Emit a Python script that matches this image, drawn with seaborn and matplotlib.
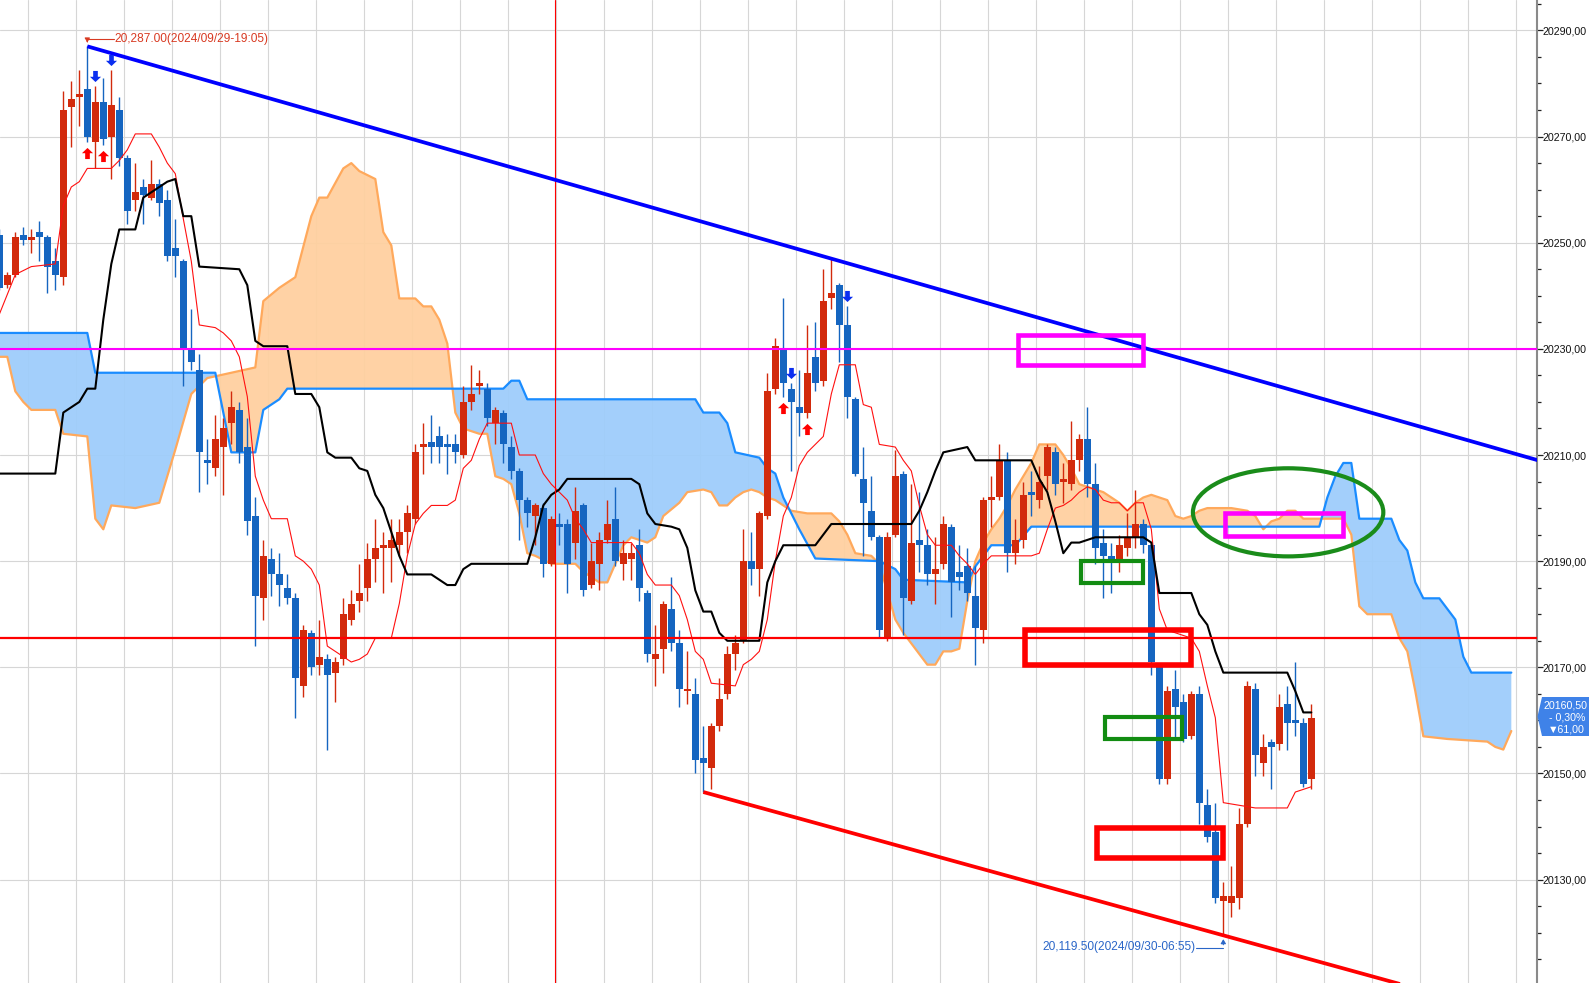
import matplotlib
matplotlib.use("Agg")
import matplotlib.pyplot as plt
from matplotlib import font_manager
from matplotlib.patches import Polygon, Rectangle, Ellipse
import numpy as np
import pandas as pd
import seaborn as sns

# --- candles (one row of ten per line) ---
opens = [
    20251.5, 20242.0, 20244.0, 20251.5, 20250.5, 20252.0, 20251.0, 20246.5, 20243.5, 20275.5,
    20277.5, 20279.0, 20269.0, 20276.5, 20270.0, 20275.0, 20266.0, 20258.0, 20260.5, 20258.5,
    20261.0, 20258.0, 20249.0, 20246.5, 20230.0, 20226.0, 20209.0, 20207.5, 20211.5, 20216.0,
    20218.5, 20211.5, 20198.5, 20183.0, 20190.5, 20187.5, 20185.0, 20183.0, 20166.5, 20176.5,
    20170.5, 20171.5, 20169.0, 20171.5, 20179.0, 20182.5, 20185.0, 20190.5, 20192.5, 20192.5,
    20193.0, 20195.5, 20198.0, 20211.5, 20212.5, 20213.5, 20212.0, 20212.0, 20210.0, 20220.0,
    20223.0, 20222.5, 20216.0, 20218.0, 20211.5, 20207.0, 20201.5, 20198.5, 20200.0, 20189.5,
    20197.0, 20197.0, 20193.5, 20200.5, 20185.5, 20189.5, 20194.0, 20198.0, 20189.5, 20190.5,
    20193.0, 20184.0, 20171.5, 20173.5, 20181.0, 20174.5, 20165.5, 20165.0, 20153.0, 20151.0,
    20159.0, 20165.0, 20172.5, 20175.0, 20190.0, 20188.5, 20198.5, 20222.5, 20230.0, 20222.5,
    20219.0, 20218.0, 20228.5, 20224.0, 20239.5, 20242.0, 20234.5, 20220.5, 20205.5, 20199.5,
    20194.5, 20175.5, 20195.0, 20206.5, 20182.5, 20194.0, 20193.0, 20187.5, 20189.5, 20196.5,
    20188.0, 20189.0, 20183.5, 20177.0, 20201.5, 20202.0, 20209.0, 20191.5, 20194.0, 20203.0,
    20201.5, 20206.0, 20210.5, 20205.0, 20204.5, 20209.0, 20213.0, 20204.5, 20193.5, 20191.0,
    20190.5, 20192.5, 20194.5, 20197.0, 20193.0, 20170.0, 20149.0, 20166.0, 20163.5, 20157.0,
    20165.0, 20144.0, 20139.0, 20126.0, 20125.5, 20126.5, 20140.5, 20166.0, 20152.0, 20156.0,
    20155.5, 20163.0, 20160.0, 20159.5, 20149.0]
highs = [
    20252.5, 20244.5, 20252.0, 20253.0, 20252.5, 20254.0, 20251.5, 20249.0, 20278.5, 20280.5,
    20282.5, 20287.0, 20279.5, 20281.0, 20282.5, 20277.5, 20266.5, 20265.0, 20262.0, 20265.5,
    20262.0, 20260.0, 20254.5, 20247.0, 20237.5, 20229.0, 20213.0, 20217.5, 20217.0, 20222.0,
    20220.0, 20217.0, 20202.0, 20194.0, 20192.5, 20191.5, 20187.5, 20184.0, 20178.0, 20177.0,
    20179.0, 20172.5, 20172.0, 20183.0, 20184.5, 20189.5, 20193.5, 20198.0, 20195.5, 20198.0,
    20198.0, 20200.5, 20212.0, 20216.0, 20217.5, 20215.5, 20214.0, 20214.0, 20223.0, 20227.0,
    20226.0, 20223.5, 20219.0, 20218.5, 20213.5, 20207.5, 20202.0, 20201.0, 20201.0, 20198.5,
    20199.0, 20198.0, 20204.0, 20201.0, 20193.5, 20195.5, 20201.5, 20204.0, 20194.0, 20193.5,
    20196.0, 20184.5, 20178.0, 20182.5, 20187.0, 20177.0, 20173.0, 20168.0, 20159.0, 20159.5,
    20168.0, 20174.0, 20176.0, 20196.0, 20195.5, 20199.5, 20225.5, 20232.0, 20239.5, 20223.5,
    20226.0, 20234.5, 20235.0, 20245.0, 20247.0, 20242.5, 20238.0, 20221.0, 20211.5, 20206.0,
    20195.0, 20195.5, 20211.0, 20207.0, 20204.5, 20203.0, 20196.0, 20194.5, 20198.5, 20197.0,
    20193.0, 20192.5, 20189.0, 20202.0, 20206.0, 20212.0, 20210.5, 20198.0, 20205.0, 20207.0,
    20208.0, 20212.0, 20211.5, 20208.5, 20216.5, 20214.0, 20219.0, 20208.5, 20196.0, 20193.5,
    20195.0, 20199.0, 20203.5, 20198.0, 20193.5, 20170.5, 20166.5, 20169.5, 20165.0, 20165.5,
    20166.5, 20147.0, 20144.5, 20129.5, 20132.5, 20143.5, 20167.5, 20167.0, 20157.5, 20156.5,
    20165.0, 20166.5, 20171.0, 20160.5, 20163.0]
lows = [
    20241.0, 20241.5, 20243.5, 20249.5, 20248.0, 20246.5, 20240.5, 20241.0, 20242.0, 20268.0,
    20272.0, 20269.0, 20264.0, 20268.5, 20262.0, 20264.5, 20253.5, 20256.0, 20253.5, 20258.0,
    20255.0, 20246.5, 20243.5, 20223.0, 20226.0, 20203.0, 20204.5, 20206.0, 20202.5, 20212.0,
    20208.5, 20195.0, 20174.0, 20179.0, 20183.5, 20181.5, 20182.0, 20160.5, 20164.5, 20168.5,
    20168.5, 20154.5, 20163.5, 20170.5, 20178.0, 20180.5, 20182.5, 20186.0, 20184.0, 20186.0,
    20191.0, 20191.5, 20197.0, 20206.5, 20208.5, 20208.5, 20206.5, 20208.5, 20209.5, 20218.5,
    20221.5, 20215.5, 20212.0, 20208.5, 20205.5, 20194.0, 20196.5, 20193.0, 20187.0, 20189.0,
    20193.0, 20184.0, 20190.5, 20183.5, 20185.0, 20184.5, 20193.5, 20189.0, 20186.5, 20186.5,
    20182.5, 20171.0, 20166.5, 20169.0, 20173.0, 20162.5, 20163.0, 20150.0, 20146.5, 20147.0,
    20158.0, 20164.0, 20169.5, 20174.5, 20185.5, 20183.5, 20198.0, 20221.5, 20221.0, 20207.0,
    20213.5, 20217.0, 20222.0, 20223.0, 20237.5, 20227.5, 20217.0, 20206.0, 20191.0, 20194.0,
    20175.5, 20175.0, 20194.5, 20176.0, 20182.0, 20188.0, 20185.5, 20182.0, 20188.5, 20179.5,
    20184.5, 20182.5, 20170.5, 20174.5, 20196.5, 20201.5, 20188.0, 20189.5, 20192.5, 20198.5,
    20200.0, 20203.5, 20202.5, 20201.0, 20203.5, 20207.0, 20202.0, 20189.5, 20183.0, 20184.0,
    20188.0, 20191.0, 20192.5, 20191.5, 20168.5, 20148.0, 20148.0, 20156.5, 20156.0, 20156.5,
    20140.5, 20137.0, 20125.5, 20119.5, 20123.0, 20124.5, 20140.0, 20149.5, 20149.5, 20147.0,
    20154.5, 20154.5, 20157.0, 20147.5, 20147.0]
closes = [
    20241.5, 20244.0, 20251.0, 20250.5, 20251.0, 20251.0, 20245.5, 20244.0, 20275.0, 20277.0,
    20278.0, 20270.0, 20276.5, 20269.5, 20276.0, 20266.0, 20256.0, 20259.5, 20259.0, 20261.0,
    20257.5, 20247.5, 20247.5, 20230.0, 20227.5, 20210.5, 20208.5, 20213.0, 20215.0, 20219.0,
    20210.5, 20197.5, 20183.5, 20191.0, 20187.5, 20185.5, 20183.0, 20168.0, 20177.0, 20170.0,
    20172.0, 20168.5, 20171.0, 20180.0, 20182.0, 20184.0, 20190.5, 20192.5, 20193.0, 20194.0,
    20195.5, 20199.0, 20210.5, 20212.0, 20211.5, 20211.5, 20211.5, 20210.5, 20220.0, 20221.5,
    20223.5, 20217.0, 20218.5, 20212.0, 20207.0, 20201.5, 20199.0, 20200.5, 20189.5, 20198.0,
    20196.5, 20189.5, 20199.5, 20184.5, 20190.0, 20194.0, 20197.0, 20190.0, 20191.5, 20191.5,
    20185.0, 20172.5, 20172.5, 20182.0, 20174.5, 20166.0, 20166.0, 20152.5, 20152.0, 20159.0,
    20164.0, 20172.5, 20174.5, 20190.0, 20188.5, 20199.0, 20222.0, 20230.5, 20223.5, 20220.0,
    20218.0, 20225.5, 20223.5, 20239.0, 20240.5, 20234.5, 20221.0, 20206.5, 20201.0, 20194.5,
    20177.0, 20194.5, 20206.0, 20183.0, 20193.5, 20193.0, 20187.5, 20188.5, 20197.0, 20186.0,
    20187.0, 20184.0, 20177.5, 20201.5, 20202.0, 20209.0, 20191.5, 20194.0, 20202.5, 20202.5,
    20205.0, 20211.5, 20204.5, 20205.5, 20209.0, 20213.0, 20204.5, 20192.5, 20191.0, 20190.5,
    20193.0, 20194.5, 20197.0, 20193.0, 20171.0, 20149.0, 20165.5, 20162.5, 20156.5, 20165.0,
    20144.5, 20138.0, 20126.5, 20127.0, 20127.0, 20140.5, 20166.5, 20153.5, 20155.0, 20155.0,
    20162.5, 20159.5, 20159.5, 20148.0, 20160.5]

# --- ichimoku lines, vertices (bar index, price) ---
tenkan_x = [0, 2, 4, 7, 8, 9, 10, 11, 14, 15, 16, 17, 19, 20, 21, 22, 23, 24, 25, 27,
            28, 29, 30, 31, 32, 33, 34, 36, 37, 38, 39, 40, 41, 42, 43, 44, 45, 46, 47, 49,
            50, 51, 52, 53, 54, 56, 57, 58, 59, 60, 61, 64, 65, 67, 68, 69, 70, 71, 72, 73,
            74, 79, 80, 81, 82, 84, 85, 86, 87, 88, 89, 92, 93, 94, 95, 96, 97, 98, 99, 100,
            101, 102, 103, 104, 105, 107, 108, 109, 110, 112, 113, 114, 115, 116, 117, 119, 120, 121, 122, 123,
            124, 129, 130, 131, 132, 133, 134, 135, 136, 137, 138, 139, 140, 141, 142, 143, 144, 145, 146, 149,
            150, 151, 152, 153, 157, 161, 162, 163, 164]
tenkan_y = [20236.5, 20244.0, 20245.5, 20246.0, 20257.0, 20260.5, 20261.5, 20264.0, 20264.0, 20265.5,
            20267.5, 20270.5, 20270.5, 20268.0, 20265.0, 20263.0, 20254.5, 20246.5, 20234.5, 20234.0,
            20233.0, 20231.5, 20228.5, 20221.0, 20206.0, 20201.5, 20198.0, 20198.0, 20191.0, 20190.0,
            20188.5, 20185.5, 20174.0, 20173.0, 20172.0, 20171.0, 20171.5, 20172.5, 20175.5, 20175.5,
            20182.0, 20191.0, 20197.0, 20199.0, 20200.5, 20200.5, 20201.5, 20207.5, 20209.0, 20213.0,
            20216.0, 20216.0, 20210.0, 20210.0, 20206.5, 20204.5, 20203.0, 20201.5, 20198.0, 20196.0,
            20193.5, 20193.5, 20191.5, 20187.5, 20185.5, 20185.5, 20183.5, 20179.0, 20173.0, 20171.5,
            20167.0, 20166.5, 20170.5, 20171.5, 20173.0, 20179.0, 20190.0, 20198.5, 20202.0, 20208.0,
            20210.5, 20212.0, 20213.5, 20221.5, 20227.0, 20227.0, 20219.5, 20219.0, 20212.0, 20211.5,
            20209.0, 20207.0, 20200.5, 20195.0, 20193.0, 20193.0, 20191.0, 20189.5, 20187.5, 20189.5,
            20191.0, 20191.0, 20191.5, 20196.0, 20200.0, 20200.5, 20201.5, 20203.0, 20204.0, 20203.5,
            20201.5, 20201.0, 20201.0, 20199.5, 20201.0, 20201.0, 20196.0, 20181.0, 20177.0, 20175.5,
            20173.0, 20166.5, 20160.5, 20144.5, 20143.5, 20143.5, 20146.5, 20147.0, 20147.5]

kijun_x = [0, 7, 8, 10, 11, 12, 13, 14, 15, 17, 18, 21, 22, 23, 24, 25, 30, 31, 32, 33,
           36, 37, 39, 40, 41, 42, 44, 45, 46, 47, 48, 49, 50, 51, 54, 55, 56, 57, 58, 59,
           66, 67, 68, 69, 70, 71, 79, 80, 81, 82, 84, 85, 86, 87, 88, 89, 90, 91, 95, 96,
           97, 98, 102, 103, 104, 114, 115, 116, 117, 118, 121, 122, 129, 130, 131, 132, 133, 134, 135, 136,
           137, 143, 144, 145, 149, 150, 151, 152, 153, 161, 162, 163, 164]
kijun_y = [20206.5, 20206.5, 20218.0, 20220.0, 20222.5, 20222.5, 20235.5, 20246.0, 20252.5, 20252.5,
           20258.5, 20261.5, 20262.0, 20255.0, 20255.0, 20245.5, 20245.0, 20242.0, 20231.5, 20230.5,
           20230.5, 20221.5, 20221.5, 20219.0, 20210.5, 20209.5, 20209.5, 20207.5, 20207.0, 20202.5,
           20200.0, 20195.5, 20191.0, 20187.5, 20187.5, 20186.5, 20185.5, 20185.5, 20188.5, 20189.5,
           20189.5, 20194.5, 20200.5, 20202.5, 20203.5, 20205.5, 20205.5, 20204.5, 20199.0, 20197.0,
           20196.5, 20196.0, 20192.5, 20184.5, 20180.5, 20180.5, 20176.5, 20175.0, 20175.0, 20186.0,
           20190.0, 20193.0, 20193.0, 20195.0, 20197.0, 20197.0, 20199.5, 20203.0, 20207.0, 20210.5,
           20211.5, 20209.0, 20209.0, 20205.5, 20203.0, 20197.5, 20191.5, 20193.5, 20193.5, 20194.0,
           20194.5, 20194.5, 20193.5, 20184.0, 20184.0, 20180.0, 20178.0, 20173.0, 20169.0, 20169.0,
           20165.5, 20161.5, 20161.5]

span_a_x = [0, 11, 12, 27, 29, 32, 33, 35, 36, 63, 64, 65, 66, 87, 88, 90, 91, 92, 95, 96,
            97, 98, 100, 102, 110, 112, 113, 121, 122, 124, 127, 129, 165, 166, 167, 168, 169, 170, 174, 175,
            176, 177, 178, 180, 182, 183, 184, 189]
span_a_y = [20233.0, 20233.0, 20225.5, 20225.5, 20210.5, 20210.5, 20218.5, 20220.5, 20222.5, 20222.5,
            20224.0, 20224.0, 20220.5, 20220.5, 20218.0, 20218.0, 20216.0, 20210.5, 20209.5, 20207.5,
            20206.5, 20202.0, 20196.0, 20190.5, 20190.0, 20188.5, 20186.5, 20186.0, 20189.0, 20193.0,
            20193.0, 20196.5, 20196.5, 20202.0, 20206.0, 20208.5, 20208.5, 20198.0, 20198.0, 20194.0,
            20192.0, 20186.0, 20183.0, 20183.0, 20179.0, 20172.0, 20169.0, 20169.0]

span_b_x = [0, 1, 2, 3, 4, 7, 8, 11, 12, 13, 14, 17, 20, 22, 24, 26, 29, 32, 33, 35,
            37, 39, 40, 41, 43, 44, 45, 47, 48, 49, 50, 52, 53, 54, 55, 56, 57, 58, 60, 61,
            62, 63, 64, 65, 66, 67, 69, 72, 73, 75, 76, 77, 78, 79, 81, 82, 83, 85, 86, 88,
            89, 90, 91, 92, 93, 94, 95, 96, 97, 98, 99, 101, 104, 105, 106, 107, 109, 110, 112, 113,
            115, 116, 117, 118, 119, 120, 121, 122, 123, 124, 125, 126, 127, 128, 129, 130, 132, 133, 134, 135,
            136, 137, 138, 139, 140, 141, 142, 143, 144, 145, 146, 147, 148, 149, 150, 151, 154, 156, 157, 158,
            159, 160, 161, 162, 163, 165, 168, 169, 170, 171, 174, 175, 176, 177, 178, 181, 186, 187, 188, 189]
span_b_y = [20228.5, 20228.5, 20222.0, 20220.0, 20218.5, 20218.5, 20214.0, 20213.5, 20198.0, 20196.0,
            20200.5, 20200.0, 20201.0, 20211.0, 20221.5, 20224.5, 20225.5, 20226.5, 20239.0, 20241.5,
            20243.5, 20255.0, 20258.5, 20258.5, 20264.0, 20265.0, 20263.5, 20262.0, 20252.0, 20249.5,
            20239.5, 20239.5, 20238.0, 20238.0, 20235.5, 20231.0, 20218.0, 20215.0, 20214.0, 20214.0,
            20206.0, 20205.5, 20204.5, 20199.0, 20191.5, 20191.0, 20189.5, 20189.5, 20188.0, 20186.0,
            20186.0, 20189.5, 20193.0, 20194.5, 20193.5, 20194.5, 20198.5, 20201.0, 20203.0, 20203.5,
            20203.0, 20200.5, 20200.5, 20202.0, 20203.0, 20203.5, 20203.0, 20202.0, 20201.5, 20200.5,
            20199.5, 20199.0, 20199.0, 20197.5, 20195.0, 20191.5, 20191.0, 20189.5, 20179.0, 20176.5,
            20172.5, 20170.5, 20170.5, 20173.0, 20173.0, 20173.5, 20182.5, 20190.0, 20193.5, 20196.0,
            20198.0, 20200.5, 20203.5, 20206.0, 20208.5, 20212.0, 20212.0, 20210.0, 20207.5, 20204.5,
            20204.0, 20203.5, 20203.0, 20202.0, 20201.0, 20199.5, 20201.0, 20202.0, 20202.5, 20202.0,
            20201.5, 20198.5, 20198.0, 20198.5, 20199.5, 20200.0, 20200.0, 20199.5, 20198.5, 20196.0,
            20197.5, 20198.0, 20199.5, 20199.5, 20198.0, 20198.0, 20198.0, 20195.0, 20181.5, 20180.0,
            20180.0, 20175.5, 20173.0, 20165.5, 20157.0, 20156.5, 20156.0, 20155.0, 20154.5, 20158.0]

# signals, trend lines and levels
buy_idx = [11, 13, 98, 101]
sell_idx = [12, 14, 99, 106]
upper_trend_idx = [11, 104]
upper_trend_val = [20287.0, 20247.0]
lower_trend_idx = [88, 153]
lower_trend_val = [20146.5, 20119.5]
magenta_level = 20230.0
red_level = 20175.5
red_vline_idx = 69.5

tick_prices = [20130, 20150, 20170, 20190, 20210, 20230, 20250, 20270, 20290]
high_time = "2024/09/29-19:05"
low_time = "2024/09/30-06:55"
last_close = 20160.50
change_pts = -61.00
change_pct = -0.30

# ------------------------------------------------------------------
W, H = 1589, 983
sns.set_style("white")
have_narrow = any(f.name == "Liberation Sans Narrow" for f in font_manager.fontManager.ttflist)
plt.rcParams["font.family"] = ["Liberation Sans", "DejaVu Sans"]

RED = "#d22a0c"
BLUE = "#1565c0"
CLOUD_BLUE = "#9ecdfb"
CLOUD_ORANGE = "#ffd0a0"
SPAN_BLUE = "#1a8cff"
SPAN_ORANGE = "#ffa95c"

fig = plt.figure(figsize=(W / 100, H / 100), dpi=100)
ax = fig.add_axes([0, 0, 1537 / W, 1])

o = np.array(opens); h = np.array(highs); l = np.array(lows); c = np.array(closes)
xs = np.arange(len(o))

# grid
for gx in np.arange(3.525, 192, 6):
    ax.axvline(gx, color="#d6d6d6", lw=0.8, zorder=0)
for gy in tick_prices:
    ax.axhline(gy, color="#d6d6d6", lw=0.8, zorder=0)

# cloud
xg = np.linspace(0, 189, 189 * 10 + 1)
sa = np.interp(xg, span_a_x, span_a_y)
sb = np.interp(xg, span_b_x, span_b_y)
ax.fill_between(xg, sa, sb, where=sa >= sb, interpolate=True, color=CLOUD_BLUE, lw=0, zorder=1, alpha=0.95)
ax.fill_between(xg, sa, sb, where=sa < sb, interpolate=True, color=CLOUD_ORANGE, lw=0, zorder=1, alpha=0.95)
span_a = pd.DataFrame({"idx": span_a_x, "price": span_a_y})
span_b = pd.DataFrame({"idx": span_b_x, "price": span_b_y})
sns.lineplot(data=span_b, x="idx", y="price", ax=ax, color=SPAN_ORANGE, lw=1.6, zorder=2)
sns.lineplot(data=span_a, x="idx", y="price", ax=ax, color=SPAN_BLUE, lw=1.6, zorder=2)

# candles
up = c >= o
cols = np.where(up, RED, BLUE)
ax.vlines(xs, l, h, colors=cols, lw=1.0, zorder=3)
body_low = np.minimum(o, c)
body_h = np.maximum(np.abs(c - o), 0.3)
ax.bar(xs, body_h, bottom=body_low, width=0.8, color=cols, lw=0, zorder=4)

# tenkan / kijun
tenkan = pd.DataFrame({"idx": tenkan_x, "price": tenkan_y})
kijun = pd.DataFrame({"idx": kijun_x, "price": kijun_y})
sns.lineplot(data=tenkan, x="idx", y="price", ax=ax, color="#ff1010", lw=0.8, zorder=5)
sns.lineplot(data=kijun, x="idx", y="price", ax=ax, color="#000000", lw=1.5, zorder=5)

# levels
ax.axhline(magenta_level, color="#ff00ff", lw=1.5, zorder=6)
ax.axhline(red_level, color="#ff0000", lw=1.6, zorder=6)
ax.axvline(red_vline_idx, color="#ff0000", lw=0.8, zorder=6)

# trend lines (rays from the first anchor)
s1 = (upper_trend_val[1] - upper_trend_val[0]) / (upper_trend_idx[1] - upper_trend_idx[0])
ax.plot([upper_trend_idx[0], 200], [upper_trend_val[0], upper_trend_val[0] + s1 * (200 - upper_trend_idx[0])],
        color="#0000ff", lw=2.7, zorder=7, solid_capstyle="butt")
s2 = (lower_trend_val[1] - lower_trend_val[0]) / (lower_trend_idx[1] - lower_trend_idx[0])
ax.plot([lower_trend_idx[0], 200], [lower_trend_val[0], lower_trend_val[0] + s2 * (200 - lower_trend_idx[0])],
        color="#ff0000", lw=2.7, zorder=7, solid_capstyle="butt")

# signal arrows
up_arrow = [(0, 1), (-1, 0.05), (-0.42, 0.05), (-0.42, -1), (0.42, -1), (0.42, 0.05), (1, 0.05), (0, 1)]
down_arrow = [(x, -y) for x, y in up_arrow]
ax.plot(buy_idx, l[buy_idx] - 2.15, ls="none", marker=up_arrow, ms=8, color="#ff0000",
        markeredgewidth=0, zorder=8)
ax.plot(sell_idx, h[sell_idx] + 2.0, ls="none", marker=down_arrow, ms=8, color="#0a2ef0",
        markeredgewidth=0, zorder=8)

# drawn boxes and ellipse
for x0, x1, y0, y1, col, lw in [
    (127.3, 142.9, 20227.0, 20232.7, "#ff00ff", 3.3),
    (153.2, 167.9, 20194.8, 20199.1, "#ff00ff", 3.3),
    (135.2, 143.0, 20185.9, 20190.1, "#128c12", 3.0),
    (138.2, 147.8, 20156.5, 20160.7, "#128c12", 3.0),
    (128.2, 148.9, 20170.5, 20177.0, "#ff0000", 4.0),
    (137.2, 153.0, 20134.1, 20139.7, "#ff0000", 4.0),
]:
    ax.add_patch(Rectangle((x0, y0), x1 - x0, y1 - y0, fill=False, edgecolor=col, lw=lw,
                           joinstyle="miter", zorder=9))
ax.add_patch(Ellipse((161.1, 20199.2), 23.8, 16.6, fill=False, edgecolor="#1a8c1a", lw=3.0, zorder=9))

# high / low annotations
label_font = dict(family=["Liberation Sans Narrow", "Liberation Sans"] if have_narrow else ["Liberation Sans"],
                  size=9.8 if have_narrow else 8.6)
hi = float(h.max()); hi_i = int(h.argmax())
lo = float(l.min()); lo_i = int(l.argmin())
ax.text(14.45, 20288.4, f"{hi:,.2f}({high_time})", color="#d83a22", ha="left", va="center",
        fontdict=label_font, zorder=10)
ax.plot([14.3, hi_i], [20288.4, 20288.4], color="#d83a22", lw=0.8, zorder=10)
ax.annotate("", xy=(hi_i, hi + 0.2), xytext=(hi_i, 20288.5),
            arrowprops=dict(arrowstyle="-|>,head_length=0.25,head_width=0.15", color="#d83a22", lw=0.8),
            zorder=10)
ax.text(149.5, 20117.3, f"{lo:,.2f}({low_time})", color="#2a66c8", ha="right", va="center",
        fontdict=label_font, zorder=10)
ax.plot([149.6, lo_i], [20117.2, 20117.2], color="#2a66c8", lw=0.8, zorder=10)
ax.annotate("", xy=(lo_i, lo - 0.2), xytext=(lo_i, 20117.2),
            arrowprops=dict(arrowstyle="-|>,head_length=0.25,head_width=0.15", color="#2a66c8", lw=0.8),
            zorder=10)

# axes
ax.set_xlim(0.0875, 192.21)
ax.set_ylim(20110.52, 20295.73)
ax.set_xlabel("")
ax.set_ylabel("")
ax.set_xticks([])
ax.yaxis.tick_right()
ax.set_yticks(tick_prices)
ax.set_yticklabels([f"{p:.2f}".replace(".", ",") for p in tick_prices])
ax.set_yticks(np.arange(20115, 20296, 5), minor=True)
ax.tick_params(axis="y", which="major", length=4, width=0.9, color="#222222", pad=0.3,
               labelsize=7.7, labelcolor="#111111")
ax.tick_params(axis="y", which="minor", length=3, width=0.9, color="#222222")
for side in ["left", "top", "bottom"]:
    ax.spines[side].set_visible(False)
ax.spines["right"].set_color("#8a8a8a")
ax.spines["right"].set_linewidth(1.5)
if ax.get_legend() is not None:
    ax.get_legend().remove()

# last price tag on the price scale
def fp(x, y):
    return (x / W, 1 - y / H)

tag = Polygon([fp(1537.5, 716.5), fp(1542, 697), fp(1589, 697), fp(1589, 736), fp(1542, 736)],
              closed=True, transform=fig.transFigure, facecolor="#3f82e8", edgecolor="none")
fig.add_artist(tag)
tag_font = dict(color="white", ha="center", va="center", fontsize=7.7,
                family=["Liberation Sans", "DejaVu Sans"])
fig.text(*fp(1565, 705), f"{last_close:.2f}".replace(".", ","), **tag_font)
fig.text(*fp(1567, 717), f"- {abs(change_pct):.2f}%".replace(".", ","), **tag_font)
fig.text(*fp(1566, 729), f"\u25bc{abs(change_pts):.2f}".replace(".", ","), **tag_font)

fig.savefig("out.png", dpi=100)
